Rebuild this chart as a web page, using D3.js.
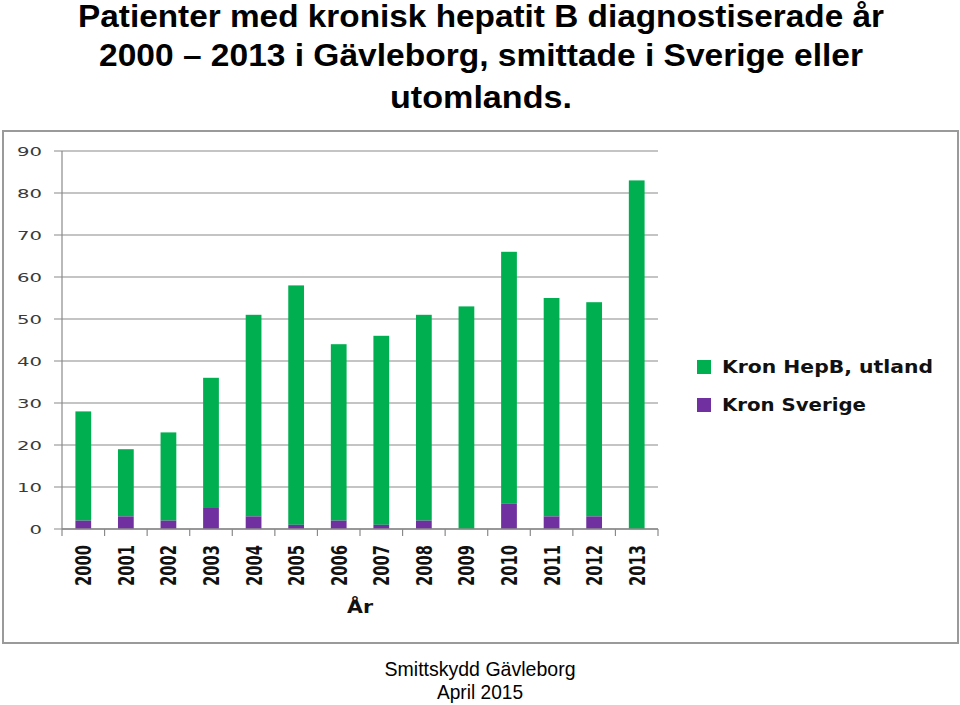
<!DOCTYPE html>
<html><head><meta charset="utf-8">
<script src="https://cdn.jsdelivr.net/npm/d3@7/dist/d3.min.js"></script>
<style>body{margin:0;background:#fff}svg{display:block}</style>
</head><body>
<script>
const years = ["2000","2001","2002","2003","2004","2005","2006","2007","2008","2009","2010","2011","2012","2013"];
const sverige = [2,3,2,5,3,1,2,1,2,0,6,3,3,0];
const utland = [26,16,21,31,48,57,42,45,49,53,60,52,51,83];
const yTicks = [0,10,20,30,40,50,60,70,80,90];
const seriesNames = ["Kron HepB, utland","Kron Sverige"];
const colors = {utland:"#00B050", sverige:"#7030A0"};

const W=960,H=705;
const svg=d3.select("body").append("svg").attr("width",W).attr("height",H);

// Title
const titleLines=[
 {t:"Patienter med kronisk hepatit B diagnostiserade år", y:27, len:806},
 {t:"2000 – 2013 i Gävleborg, smittade i Sverige eller", y:66, len:764},
 {t:"utomlands.", y:108, len:182}
];
titleLines.forEach(l=>{
 svg.append("text").attr("x",481).attr("y",l.y).attr("text-anchor","middle")
  .attr("font-family","Liberation Sans, Arial, sans-serif").attr("font-weight","bold")
  .attr("font-size",31).attr("textLength",l.len).attr("lengthAdjust","spacingAndGlyphs")
  .text(l.t);
});

// Frame
svg.append("rect").attr("x",3).attr("y",131).attr("width",955).attr("height",512)
 .attr("fill","#fff").attr("stroke","#9a9a9a").attr("stroke-width",2);

const x=d3.scaleBand().domain(years).range([62,658]).paddingInner(0.63).paddingOuter(0.315);
const y=d3.scaleLinear().domain([0,90]).range([529,151]);

// gridlines
svg.append("g").selectAll("line").data(yTicks).join("line")
 .attr("x1",54).attr("x2",658).attr("y1",d=>y(d)).attr("y2",d=>y(d))
 .attr("stroke","#8a8a8a").attr("stroke-width",1.2);

// y axis labels
svg.append("g").selectAll("text").data(yTicks).join("text")
 .attr("x",42).attr("y",d=>y(d)+5).attr("text-anchor","end")
 .attr("font-family","DejaVu Sans, Verdana, sans-serif").attr("font-size",13)
 .attr("textLength",d=>String(d).length*12.5).attr("lengthAdjust","spacingAndGlyphs")
 .attr("fill","#3a3a3a").text(d=>d);

// y axis line
svg.append("line").attr("x1",62).attr("x2",62).attr("y1",151).attr("y2",529)
 .attr("stroke","#8a8a8a").attr("stroke-width",1.2);

// bars
const stack=years.map((yr,i)=>({yr,s:sverige[i],u:utland[i]}));
svg.append("g").selectAll("rect").data(stack).join("rect")
 .attr("x",d=>x(d.yr)).attr("width",x.bandwidth())
 .attr("y",d=>y(d.s+d.u)).attr("height",d=>y(d.s)-y(d.s+d.u))
 .attr("fill",colors.utland);
svg.append("g").selectAll("rect").data(stack).join("rect")
 .attr("x",d=>x(d.yr)).attr("width",x.bandwidth())
 .attr("y",d=>y(d.s)).attr("height",d=>y(0)-y(d.s))
 .attr("fill",colors.sverige);

// x axis
const bounds=d3.range(years.length+1).map(i=>62+i*(596/years.length));
svg.append("line").attr("x1",62).attr("x2",658).attr("y1",529).attr("y2",529)
 .attr("stroke","#8a8a8a").attr("stroke-width",1.5);
svg.append("g").selectAll("line").data(bounds).join("line")
 .attr("x1",d=>d).attr("x2",d=>d).attr("y1",529).attr("y2",536)
 .attr("stroke","#8a8a8a").attr("stroke-width",1.2);
svg.append("g").selectAll("text").data(years).join("text")
 .attr("transform",d=>`translate(${x(d)+x.bandwidth()/2+8},545) rotate(-90)`)
 .attr("text-anchor","end")
 .attr("font-family","DejaVu Sans, Verdana, sans-serif").attr("font-weight","bold")
 .attr("font-size",21).attr("textLength",41).attr("lengthAdjust","spacingAndGlyphs")
 .attr("fill","#111").text(d=>d);

svg.append("text").attr("x",360).attr("y",613).attr("text-anchor","middle")
 .attr("font-family","DejaVu Sans, Verdana, sans-serif").attr("font-weight","bold")
 .attr("font-size",18).attr("textLength",26).attr("lengthAdjust","spacingAndGlyphs")
 .attr("fill","#111").text("År");

// legend
const leg=[{n:seriesNames[0],c:colors.utland,y:367,len:211},{n:seriesNames[1],c:colors.sverige,y:405,len:144}];
leg.forEach(l=>{
 svg.append("rect").attr("x",697).attr("y",l.y-7).attr("width",14).attr("height",14).attr("fill",l.c);
 svg.append("text").attr("x",722).attr("y",l.y+6).attr("font-family","DejaVu Sans, Verdana, sans-serif")
  .attr("font-weight","bold").attr("font-size",17).attr("fill","#111")
  .attr("textLength",l.len).attr("lengthAdjust","spacingAndGlyphs").text(l.n);
});

// footer
svg.append("text").attr("x",480).attr("y",676).attr("text-anchor","middle")
 .attr("font-family","Liberation Sans, Arial, sans-serif").attr("font-size",21)
 .attr("textLength",191).attr("lengthAdjust","spacingAndGlyphs").text("Smittskydd Gävleborg");
svg.append("text").attr("x",480).attr("y",699).attr("text-anchor","middle")
 .attr("font-family","Liberation Sans, Arial, sans-serif").attr("font-size",21)
 .attr("textLength",86).attr("lengthAdjust","spacingAndGlyphs").text("April 2015");
</script>
</body></html>
